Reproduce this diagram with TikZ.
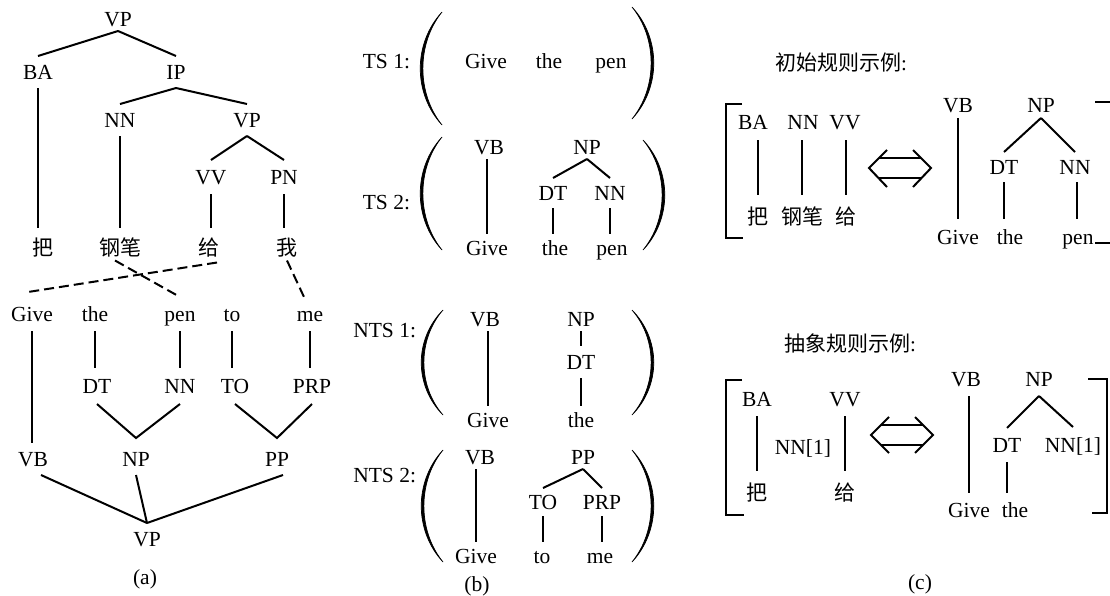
\documentclass[tikz,border=0pt]{standalone}
\usepackage{fontspec}
\setmainfont{Liberation Serif}
\newfontfamily\cjk{Noto Sans CJK SC}
\newcommand{\parenL}[3]{\fill[parfill] (#1,#2) .. controls (#1-29,{#2+0.28*(#3-#2)}) and (#1-29,{#3-0.28*(#3-#2)}) .. (#1,#3) .. controls (#1-25.5,{#3-0.28*(#3-#2)}) and (#1-25.5,{#2+0.28*(#3-#2)}) .. (#1,#2) -- cycle;}
\newcommand{\parenR}[3]{\fill[parfill] (#1,#2) .. controls (#1+29,{#2+0.28*(#3-#2)}) and (#1+29,{#3-0.28*(#3-#2)}) .. (#1,#3) .. controls (#1+25.5,{#3-0.28*(#3-#2)}) and (#1+25.5,{#2+0.28*(#3-#2)}) .. (#1,#2) -- cycle;}
\begin{document}
\begin{tikzpicture}[x=1pt,y=-1pt,line width=2pt,
  lat/.style={font=\fontsize{21.5}{25}\selectfont,inner xsep=1pt,inner ysep=#1,text height=14pt,text depth=0pt,anchor=base},
  lat/.default=8pt,
  zh/.style={font=\cjk\fontsize{21}{25}\selectfont,inner xsep=1pt,inner ysep=#1,text height=18.5pt,text depth=2.5pt,anchor=base},
  zh/.default=8pt,
  dashedge/.style={dash pattern=on 10pt off 5pt},
  parfill/.style={fill=black,draw=black,line width=0.7pt}
]
\clip (0,0) rectangle (1110,595);

% ---------------- panel (a) ----------------
\node[lat=4pt] (aVP) at (118,26) {VP};
\node[lat] (aBA) at (38,79) {BA};
\node[lat] (aIP) at (176,79) {IP};
\node[lat] (aNN) at (120,127) {NN};
\node[lat] (aVPb) at (247,127) {VP};
\node[lat=9pt] (aVV) at (211,184) {VV};
\node[lat=9pt] (aPN) at (284,184) {PN};
\node[zh] (aba) at (43,255) {把};
\node[zh] (agb) at (120,255) {钢笔};
\node[zh] (agei) at (209,255) {给};
\node[zh] (awo) at (287,255) {我};
\node[lat=9pt] (agive) at (32,321) {Give};
\node[lat=9pt] (athe) at (95,321) {the};
\node[lat=9pt] (apen) at (180,321) {pen};
\node[lat=9pt] (ato) at (232,321) {to};
\node[lat=9pt] (ame) at (310,321) {me};
\node[lat=10pt] (aDT) at (97,393) {DT};
\node[lat=10pt] (aNNb) at (180,393) {NN};
\node[lat=10pt] (aTO) at (235,393) {TO};
\node[lat=10pt] (aPRP) at (312,393) {PRP};
\node[lat] (aVB) at (33,466) {VB};
\node[lat] (aNP) at (136,466) {NP};
\node[lat] (aPP) at (277,466) {PP};
\node[lat] (aVPc) at (147,546) {VP};
\node[lat] (alab) at (145,584) {(a)};

\draw (aVP.south) -- (aBA.north);
\draw (aVP.south) -- (aIP.north);
\draw (aIP.south) -- (aNN.north);
\draw (aIP.south) -- (aVPb.north);
\draw (aVPb.south) -- (aVV.north);
\draw (aVPb.south) -- (aPN.north);
\draw (aBA.south) -- (aBA.south |- aba.north);
\draw (aNN.south) -- (aNN.south |- agb.north);
\draw (aVV.south) -- (aVV.south |- agei.north);
\draw (aPN.south) -- (aPN.south |- awo.north);
\draw[dashedge] ([xshift=8pt,yshift=4pt]agei.south) -- ([xshift=-4pt,yshift=5pt]agive.north);
\draw[dashedge] ([xshift=-5pt,yshift=6pt]agb.south) -- (apen.north);
\draw[dashedge] ([yshift=6pt]awo.south) -- ([xshift=-6pt]ame.north);
\draw (agive.south) -- (agive.south |- aVB.north);
\draw (athe.south) -- (athe.south |- aDT.north);
\draw (apen.south) -- (apen.south |- aNNb.north);
\draw (ato.south) -- (ato.south |- aTO.north);
\draw (ame.south) -- (ame.south |- aPRP.north);
\draw (aDT.south) -- ([yshift=5pt]aNP.north) -- (aNNb.south);
\draw (aTO.south) -- ([yshift=5pt]aPP.north) -- (aPRP.south);
\draw ([xshift=8pt]aVB.south) -- (aVPc.north);
\draw (aNP.south) -- (aVPc.north);
\draw ([xshift=6pt]aPP.south) -- (aVPc.north);

% ---------------- panel (b) ----------------
\node[lat,anchor=base east] (ts1) at (412,68) {TS 1:};
\node[lat] (t1give) at (486,68) {Give};
\node[lat] (t1the) at (549,68) {the};
\node[lat] (t1pen) at (611,68) {pen};
\parenL{442}{12}{125}
\parenR{632}{7}{119}

\node[lat,anchor=base east] (ts2) at (412,209) {TS 2:};
\node[lat=4pt] (t2VB) at (489,154) {VB};
\node[lat=4pt] (t2NP) at (587,154) {NP};
\node[lat=7pt] (t2DT) at (553,200) {DT};
\node[lat=7pt] (t2NN) at (610,200) {NN};
\node[lat=6pt] (t2give) at (487,255) {Give};
\node[lat=6pt] (t2the) at (555,255) {the};
\node[lat=6pt] (t2pen) at (612,255) {pen};
\draw (t2give.north |- t2VB.south) -- (t2give.north);
\draw (t2NP.south) -- (t2DT.north);
\draw (t2NP.south) -- (t2NN.north);
\draw (t2DT.south) -- (t2DT.south |- t2the.north);
\draw (t2NN.south) -- (t2NN.south |- t2pen.north);
\parenL{442}{137}{250}
\parenR{643}{140}{250}

\node[lat,anchor=base east] (nts1) at (418,337) {NTS 1:};
\node[lat=4pt] (n1VB) at (485,326) {VB};
\node[lat=4pt] (n1NP) at (581,326) {NP};
\node[lat=8pt] (n1DT) at (581,369) {DT};
\node[lat=6pt] (n1give) at (488,427) {Give};
\node[lat=6pt] (n1the) at (581,427) {the};
\draw (n1give.north |- n1VB.south) -- (n1give.north);
\draw (n1NP.south) -- (n1DT.north);
\draw (n1DT.south) -- (n1the.north);
\parenL{443}{310}{415}
\parenR{632}{310}{415}

\node[lat,anchor=base east] (nts2) at (418,482) {NTS 2:};
\node[lat=4pt] (n2VB) at (480,464) {VB};
\node[lat=4pt] (n2PP) at (583,464) {PP};
\node[lat=6pt] (n2TO) at (543,509) {TO};
\node[lat=6pt] (n2PRP) at (602,509) {PRP};
\node[lat=6pt] (n2give) at (476,563) {Give};
\node[lat=6pt] (n2to) at (542,563) {to};
\node[lat=6pt] (n2me) at (600,563) {me};
\draw (n2give.north |- n2VB.south) -- (n2give.north);
\draw (n2PP.south) -- (n2TO.north);
\draw (n2PP.south) -- (n2PRP.north);
\draw (n2TO.south) -- (n2TO.south |- n2to.north);
\draw (n2PRP.south) -- (n2PRP.south |- n2me.north);
\parenL{443}{450}{562}
\parenR{632}{450}{562}
\node[lat] (blab) at (477,591) {(b)};

% ---------------- panel (c) ----------------
\node[zh,anchor=base west] (c1t) at (773,70) {初始规则示例\fontspec{Liberation Serif}:};
\draw (742,104) -- (726,104) -- (726,238) -- (743,238);
\node[lat=10pt] (c1BA) at (753,129) {BA};
\node[lat=10pt] (c1NN) at (803,129) {NN};
\node[lat=10pt] (c1VV) at (845,129) {VV};
\node[zh=10pt] (c1ba) at (758,224) {把};
\node[zh=10pt] (c1gb) at (802,224) {钢笔};
\node[zh=10pt] (c1gei) at (846,224) {给};
\draw (c1ba.north |- c1BA.south) -- (c1ba.north);
\draw (c1gb.north |- c1NN.south) -- (c1gb.north);
\draw (c1gei.north |- c1VV.south) -- (c1gei.north);
% double arrow
\coordinate (da1) at (869,168);
\coordinate (db1) at (931,168);
\draw ([shift={(18,-18)}]da1) -- (da1) -- ([shift={(18,19)}]da1);
\draw ([shift={(-18,-18)}]db1) -- (db1) -- ([shift={(-18,19)}]db1);
\draw ([shift={(10,-10)}]da1) -- ([shift={(-10,-10)}]db1);
\draw ([shift={(10,10)}]da1) -- ([shift={(-10,10)}]db1);
\node[lat=5pt] (c1VB) at (958,112) {VB};
\node[lat=5pt] (c1NP) at (1041,112) {NP};
\node[lat=7pt] (c1DT) at (1004,174) {DT};
\node[lat=7pt] (c1NNb) at (1075,174) {NN};
\node[lat=10pt] (c1give) at (958,244) {Give};
\node[lat=10pt] (c1the) at (1010,244) {the};
\node[lat=10pt] (c1pen) at (1078,244) {pen};
\draw (c1VB.south) -- (c1VB.south |- c1give.north);
\draw (c1NP.south) -- (c1DT.north);
\draw (c1NP.south) -- (c1NNb.north);
\draw (c1DT.south) -- (c1DT.south |- c1the.north);
\draw ([xshift=2pt]c1NNb.south) -- ([xshift=2pt]c1NNb.south |- c1pen.north);
\draw (1095,102) -- (1113,102) -- (1113,243) -- (1095,243);

\node[zh,anchor=base west] (c2t) at (782,351) {抽象规则示例\fontspec{Liberation Serif}:};
\draw (742,380) -- (726,380) -- (726,515) -- (744,515);
\node[lat=9pt] (c2BA) at (757,406) {BA};
\node[lat=9pt] (c2VV) at (845,406) {VV};
\node[lat] (c2NN) at (803,454) {NN[1]};
\node[zh=9.5pt] (c2ba) at (757,500) {把};
\node[zh=9.5pt] (c2gei) at (845,500) {给};
\draw (c2BA.south) -- (c2BA.south |- c2ba.north);
\draw (c2VV.south) -- (c2VV.south |- c2gei.north);
\coordinate (da2) at (871,435);
\coordinate (db2) at (933,435);
\draw ([shift={(18,-18)}]da2) -- (da2) -- ([shift={(18,18)}]da2);
\draw ([shift={(-18,-18)}]db2) -- (db2) -- ([shift={(-18,18)}]db2);
\draw ([shift={(10,-10)}]da2) -- ([shift={(-10,-10)}]db2);
\draw ([shift={(10,10)}]da2) -- ([shift={(-10,10)}]db2);
\node[lat=9pt] (c2VB) at (966,386) {VB};
\node[lat=9pt] (c2NP) at (1039,386) {NP};
\node[lat=9pt] (c2DT) at (1007,452) {DT};
\node[lat=10pt] (c2NNb) at (1073,452) {NN[1]};
\node[lat=9pt] (c2give) at (969,517) {Give};
\node[lat=9pt] (c2the) at (1015,517) {the};
\draw (c2give.north |- c2VB.south) -- (c2give.north);
\draw (c2NP.south) -- (c2DT.north);
\draw (c2NP.south) -- (c2NNb.north);
\draw (c2DT.south) -- (c2DT.south |- c2the.north);
\draw (1088,379) -- (1107,379) -- (1107,513) -- (1092,513);
\node[lat] (clab) at (920,589) {(c)};
\end{tikzpicture}
\end{document}
